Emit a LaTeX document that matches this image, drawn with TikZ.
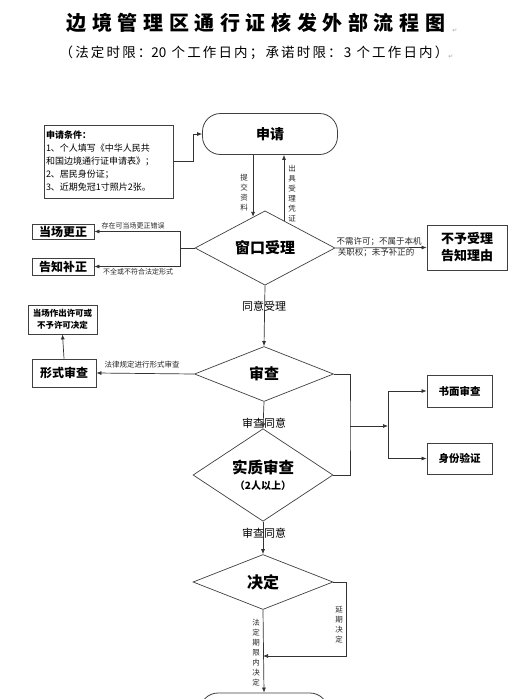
\documentclass[tikz,border=0pt]{standalone}
\usepackage{fontspec}
\setmainfont{Noto Sans CJK SC}
\newfontfamily\symfont{DejaVu Sans}
\usetikzlibrary{shapes.geometric,arrows.meta,calc}

\begin{document}
\begin{tikzpicture}[x=1pt, y=-1pt,
    bjBox/.style={rectangle, draw=black!75, line width=0.8pt, inner sep=1pt, align=center},
    bjTerm/.style={rectangle, rounded corners=18pt, draw=black!75, line width=0.8pt, inner sep=0pt},
    bjDiamond/.style={diamond, draw=black!75, line width=0.7pt, inner sep=0pt, align=center},
    bjLine/.style={draw=black!80, line width=0.7pt},
    bjArrow/.style={bjLine, -{Latex[length=5pt,width=4pt]}},
    bjLabel/.style={inner sep=0pt, font=\fontsize{7.5}{9}\selectfont, text=black!85},
    bjVLabel/.style={inner sep=0pt, align=center, font=\fontsize{7.5}{10}\selectfont, text=black!85},
    bjMark/.style={inner sep=0pt, text=black!35, font=\symfont\fontsize{6}{6}\selectfont}
]
\clip (0,0) rectangle (525,699);
\fill[white] (0,0) rectangle (525,699);

% title
\node[inner sep=0pt, font=\fontsize{20}{20}\selectfont\bfseries\addfontfeature{LetterSpace=28}] (title) at (256,23) {边境管理区通行证核发外部流程图};
\node[bjMark] (titleMark) at (455,31) {↵};
\node[inner sep=0pt, font=\fontsize{13.5}{14}\selectfont\addfontfeature{LetterSpace=16}] (subtitle) at (254,53) {（法定时限：{\addfontfeature{LetterSpace=0}20} 个工作日内；承诺时限：3 个工作日内）};
\node[bjMark] (subtitleMark) at (451,57) {↵};

% application
\node[bjTerm, minimum width=135pt, minimum height=41pt, font=\fontsize{14}{14}\selectfont\bfseries] (apply) at (270,134) {申请};
\node[rectangle, draw=black!75, line width=0.8pt, inner sep=2pt, text width=125pt, minimum height=73pt, align=left,
      font=\fontsize{9}{13}\selectfont] (cond) at (108.5,161.5)
      {\textbf{申请条件：}\\1、个人填写《中华人民共\\和国边境通行证申请表》；\\2、居民身份证；\\3、近期免冠1寸照片2张。};
\draw[bjArrow] (cond.east) -- ++(20,0) |- (apply.west);

% window acceptance
\node[bjDiamond, minimum width=140pt, minimum height=57pt, font=\fontsize{15}{15}\selectfont\bfseries] (window) at (265,248) {窗口受理};
\coordinate (winIn) at ($(window.north)!0.17!(window.west)$);
\coordinate (winOut) at ($(window.north)!0.27!(window.east)$);
\draw[bjArrow] (apply.south -| winIn) -- (winIn);
\draw[bjArrow] (winOut) -- (apply.south -| winOut);
\node[bjVLabel] (submitLbl) at (244,193) {提\\交\\资\\料};
\node[bjVLabel] (receiptLbl) at (292,194) {出\\具\\受\\理\\凭\\证};

% left: correction
\node[bjBox, minimum width=62pt, minimum height=15pt, font=\fontsize{12}{12}\selectfont\bfseries] (fix) at (63,231.5) {当场更正};
\node[bjBox, minimum width=62pt, minimum height=17pt, font=\fontsize{12}{12}\selectfont\bfseries] (notify) at (63,266.5) {告知补正};
\coordinate (winL) at (180,248);
\draw[bjLine] (window.west) -- (winL);
\draw[bjArrow] (winL) |- (fix.east);
\draw[bjArrow] (winL) |- (notify.east);
\node[bjLabel, font=\fontsize{7}{8}\selectfont] (fixLbl) at (133,226) {存在可当场更正错误};
\node[bjLabel, font=\fontsize{7}{8}\selectfont] (notifyLbl) at (138,272) {不全或不符合法定形式};

% right: rejection
\node[bjBox, minimum width=80pt, minimum height=45pt, font=\fontsize{13}{17}\selectfont\bfseries] (reject) at (467,247.5) {不予受理\\告知理由};
\draw[bjArrow] (window.east) -- (reject.west);
\node[bjLabel, font=\fontsize{8.5}{9}\selectfont] (rejectLbl1) at (379,242) {不需许可；不属于本机};
\node[bjLabel, font=\fontsize{8.5}{9}\selectfont] (rejectLbl2) at (376,253) {关职权；未予补正的};

% review
\node[bjDiamond, minimum width=139pt, minimum height=55pt, font=\fontsize{15}{15}\selectfont\bfseries] (review) at (264,374) {审查};
\draw[bjArrow] (window.south) -- (review.north);
\node[inner sep=0pt, font=\fontsize{11}{11}\selectfont] (agreeLbl) at (264,306) {同意受理};

% formal review
\node[bjBox, minimum width=64pt, minimum height=28pt, font=\fontsize{12}{12}\selectfont\bfseries] (formal) at (64,373) {形式审查};
\node[bjBox, minimum width=69pt, minimum height=29pt, font=\fontsize{8.5}{12}\selectfont\bfseries] (onsite) at (62.5,319.5) {当场作出许可或\\不予许可决定};
\draw[bjArrow] (review.west) -- (formal.east);
\draw[bjArrow] (formal.north) -- (onsite.south);
\node[bjLabel] (formalLbl) at (142,365) {法律规定进行形式审查};

% substantive review
\node[bjDiamond, minimum width=140pt, minimum height=56pt, font=\fontsize{15.5}{17}\selectfont\bfseries] (substance) at (263,475) {实质审查\\[-1pt]{\fontsize{10}{11}\selectfont（2人以上）}};
\draw[bjArrow] (review.south) -- (substance.north);
\node[inner sep=0pt, font=\fontsize{11}{11}\selectfont] (agreeLbl2) at (264,423) {审查同意};

% written / identity check
\node[bjBox, minimum width=65pt, minimum height=32pt, font=\fontsize{10.5}{11}\selectfont\bfseries] (written) at (459.5,391) {书面审查};
\node[bjBox, minimum width=65pt, minimum height=31pt, font=\fontsize{10.5}{11}\selectfont\bfseries] (identity) at (459.5,458.5) {身份验证};
\coordinate (joinR) at (350,426);
\coordinate (splitL) at (388,426);
\draw[bjLine] (review.east) -| (joinR) |- (substance.east);
\draw[bjArrow] (joinR) -- (splitL);
\draw[bjArrow] (splitL) |- (written.west);
\draw[bjArrow] (splitL) |- (identity.west);

% decision
\node[bjDiamond, minimum width=140pt, minimum height=55pt, font=\fontsize{16}{16}\selectfont\bfseries] (decide) at (263,582) {决定};
\draw[bjArrow] (substance.south) -- (decide.north);
\node[inner sep=0pt, font=\fontsize{11}{11}\selectfont] (agreeLbl3) at (264,533) {审查同意};

% result
\node[bjTerm, minimum width=128pt, minimum height=46pt] (finish) at (264,716) {};
\draw[bjArrow] (decide.south) -- (finish.north);
\coordinate (extR) at (346,656);
\coordinate (extIn) at (decide.south |- extR);
\draw[bjArrow] (decide.east) -| (extR) -- (extIn);
\node[bjVLabel] (extendLbl) at (339,625) {延\\期\\决\\定};
\node[bjVLabel] (termLbl) at (256,653) {法\\定\\期\\限\\内\\决\\定};
\end{tikzpicture}
\end{document}
